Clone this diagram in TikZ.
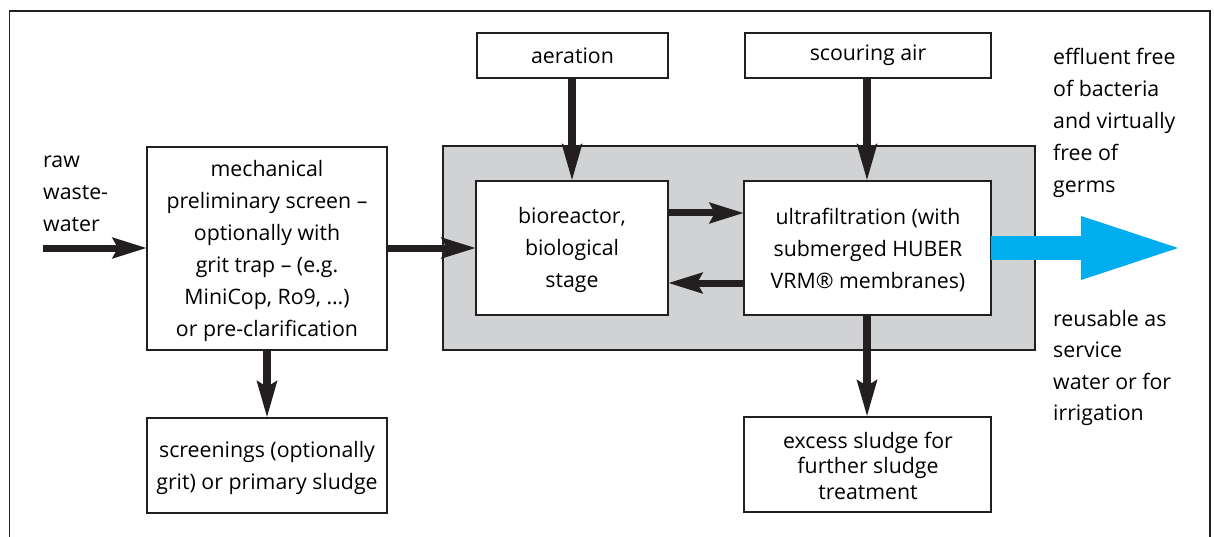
\documentclass[tikz,border=0pt]{standalone}
\usepackage{fontspec}
\setmainfont{Open Sans}
\usetikzlibrary{arrows.meta}
\definecolor{boxline}{HTML}{231F20}
\definecolor{graybg}{HTML}{D1D2D4}
\definecolor{cyanarrow}{HTML}{00AEEF}
\begin{document}
\begin{tikzpicture}[x=1pt,y=-1pt,
  txt/.style={font=\fontsize{21.3}{32}\selectfont, inner sep=0pt, align=center},
  txtl/.style={font=\fontsize{21.3}{31.7}\selectfont, inner sep=0pt, align=left, anchor=west},
  boxr/.style={draw=boxline, line width=1.4pt, fill=white},
  flow/.style={draw=boxline, line width=7pt, -{Stealth[length=34pt,width=20pt,inset=5pt]}},
  vflow/.style={draw=boxline, line width=8pt, -{Stealth[length=36pt,width=19pt,inset=5pt]}},
]
\useasboundingbox (0,0) rectangle (1214,537);
% outer frame (open at bottom)
\draw[line width=1.5pt, draw=boxline] (9.5,545) -- (9.5,11) -- (1210,11) -- (1210,545);

% grey enclosure
\draw[boxr, fill=graybg] (443,146) rectangle (1035,350);

% boxes
\draw[boxr] (147,147) rectangle (387,350);
\node[txt] (mech) at (267,251) {mechanical\\preliminary screen –\\optionally with\\grit trap – (e.g.\\MiniCop, Ro9, …)\\or pre-clarification};
\coordinate (mechB) at (267,350);
\coordinate (mechL) at (147,248);
\coordinate (mechR) at (387,248);

\draw[boxr] (147,418) rectangle (387,513);
\node[txt] (scr) at (267,467.5) {screenings (optionally\\grit) or primary sludge};
\coordinate (scrT) at (267,418);

\draw[boxr] (477,33) rectangle (668,78);
\node[txt] (aer) at (572.5,55.5) {aeration};
\coordinate (aerB) at (572,78);

\draw[boxr] (745,33) rectangle (991,78);
\node[txt] (sco) at (868,55.5) {scouring air};
\coordinate (scoB) at (867,78);

\draw[boxr] (476,181) rectangle (668,315);
\node[txt] (bio) at (572,250) {bioreactor,\\biological\\stage};
\coordinate (bioT) at (572,181);
\coordinate (bioL) at (476,248);
\coordinate (bioR1) at (668,213);
\coordinate (bioR2) at (668,283);

\draw[boxr] (744,181) rectangle (991,315);
\node[txt] (uf) at (868,250) {ultrafiltration (with\\submerged HUBER\\VRM® membranes)};
\coordinate (ufT) at (867,181);
\coordinate (ufB) at (867,315);
\coordinate (ufL1) at (744,213);
\coordinate (ufL2) at (744,283);
\coordinate (ufR) at (991,248);

\draw[boxr] (744,417) rectangle (991,512);
\node[txt, font=\fontsize{21.3}{25.5}\selectfont] (ex) at (868,465.5) {excess sludge for\\further sludge\\treatment};
\coordinate (exT) at (867,417);

% free texts
\node[txtl] (raw) at (43,194) {raw\\waste-\\water};
\coordinate (rawS) at (43,248);
\node[txtl, font=\fontsize{21.3}{32}\selectfont] (eff) at (1053,123) {effluent free\\of bacteria\\and virtually\\free of\\germs};
\node[txtl, font=\fontsize{21.3}{31.3}\selectfont] (reu) at (1053,368) {reusable as\\service\\water or for\\irrigation};
\coordinate (effE) at (1186,248);

% connectors
\draw[flow] (rawS) -- (mechL);
\draw[flow] (mechR) -- (bioL);
\draw[flow] (bioR1) -- (ufL1);
\draw[flow] (ufL2) -- (bioR2);
\draw[vflow] (aerB) -- (bioT);
\draw[vflow] (scoB) -- (ufT);
\draw[vflow] (ufB) -- (exT);
\draw[vflow] (mechB) -- (scrT);
\draw[draw=cyanarrow, line width=23pt, -{Triangle[length=105pt,width=56pt,inset=0pt]}] (ufR) -- (effE);
\end{tikzpicture}
\end{document}
